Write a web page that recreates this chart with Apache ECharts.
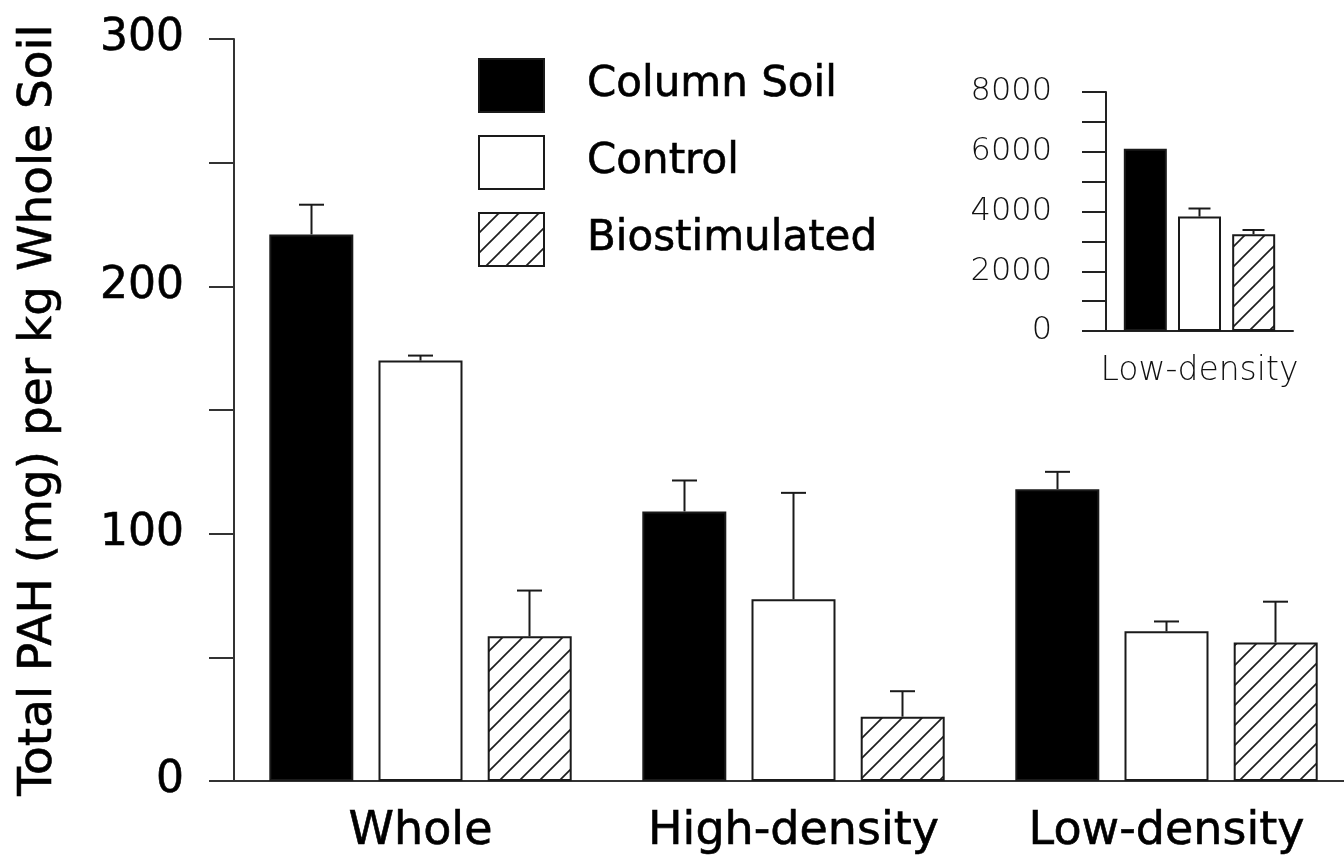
<!DOCTYPE html>
<html>
<head>
<meta charset="utf-8">
<script src="https://cdn.jsdelivr.net/npm/echarts@6/dist/echarts.min.js"></script>
<style>
html,body{margin:0;padding:0;background:#fff;}
#chart{width:1344px;height:858px;}
</style>
</head>
<body>
<div id="chart"></div>
<script>
// ---- Data ----
const categories = ['Whole', 'High-density', 'Low-density'];
const seriesNames = ['Column Soil', 'Control', 'Biostimulated'];
const columnSoil = [221, 109, 118];
const columnSoilSE = [12, 12.5, 7];
const control = [170, 73.5, 60.5];
const controlSE = [2, 43, 4];
const biostim = [58.5, 26, 56];
const biostimSE = [18.5, 10.3, 16.5];
const yTicks = [0, 100, 200, 300];

const insetCategories = ['Low-density'];
const insetColumnSoil = [6100];
const insetColumnSoilSE = [null];
const insetControl = [3830];
const insetControlSE = [270];
const insetBiostim = [3240];
const insetBiostimSE = [140];
const insetTicks = [0, 2000, 4000, 6000, 8000];

// ---- Hatch pattern ----
function makeHatch() {
  const c = document.createElement('canvas');
  c.width = 20; c.height = 20;
  const g = c.getContext('2d');
  g.fillStyle = '#fff'; g.fillRect(0, 0, 20, 20);
  g.strokeStyle = '#1e1e1e'; g.lineWidth = 1.7;
  for (let k = -1; k <= 1; k++) {
    g.beginPath();
    g.moveTo(-5, 20 + 20 * k + 5);
    g.lineTo(25, 20 + 20 * k - 25);
    g.stroke();
  }
  return c;
}
const hatch = { image: makeHatch(), repeat: 'repeat' };

const FONT = 'DejaVu Sans';
const fills = ['#000', '#fff', hatch];
const bold = { textBorderColor: '#000', textBorderWidth: 0.6 };

function errRender(idx, barW, gap, capW) {
  return function (params, api) {
    const e = api.value(2);
    if (e === null || e === undefined || isNaN(e)) return null;
    const x = api.value(0), v = api.value(1);
    const base = api.coord([x, v]);
    const top = api.coord([x, v + e]);
    const cx = base[0] + (idx - 1) * (barW + gap);
    const st = { stroke: '#1a1a1a', lineWidth: 2 };
    return {
      type: 'group',
      children: [
        { type: 'line', shape: { x1: cx, y1: base[1], x2: cx, y2: top[1] }, style: st },
        { type: 'line', shape: { x1: cx - capW / 2, y1: top[1], x2: cx + capW / 2, y2: top[1] }, style: st }
      ]
    };
  };
}

const mainVals = [columnSoil, control, biostim];
const mainSE = [columnSoilSE, controlSE, biostimSE];
const insVals = [insetColumnSoil, insetControl, insetBiostim];
const insSE = [insetColumnSoilSE, insetControlSE, insetBiostimSE];

const series = [];
seriesNames.forEach((name, i) => {
  series.push({
    name: name, type: 'bar', xAxisIndex: 0, yAxisIndex: 0,
    data: mainVals[i], barWidth: 84, barGap: '30%',
    itemStyle: { color: fills[i], borderColor: '#1a1a1a', borderWidth: 2 },
    emphasis: { disabled: true }, animation: false
  });
});
seriesNames.forEach((name, i) => {
  series.push({
    type: 'custom', xAxisIndex: 0, yAxisIndex: 0,
    renderItem: errRender(i, 84, 25, 25),
    data: categories.map((c, j) => [j, mainVals[i][j], mainSE[i][j]]),
    encode: { x: 0, y: 1 }, z: 3, silent: true, animation: false
  });
});
seriesNames.forEach((name, i) => {
  series.push({
    name: name, type: 'bar', xAxisIndex: 1, yAxisIndex: 1,
    data: insVals[i], barWidth: 43, barGap: '26%',
    itemStyle: { color: fills[i], borderColor: '#1a1a1a', borderWidth: 2 },
    emphasis: { disabled: true }, animation: false
  });
});
seriesNames.forEach((name, i) => {
  series.push({
    type: 'custom', xAxisIndex: 1, yAxisIndex: 1,
    renderItem: errRender(i, 43, 11, 22),
    data: insetCategories.map((c, j) => [j, insVals[i][j], insSE[i][j]]),
    encode: { x: 0, y: 1 }, z: 3, silent: true, animation: false
  });
});

const chart = echarts.init(document.getElementById('chart'));
chart.setOption({
  backgroundColor: '#fff',
  animation: false,
  legend: {
    data: seriesNames, orient: 'vertical', left: 473, top: 53,
    itemWidth: 65, itemHeight: 53, itemGap: 22, icon: 'rect',
    selectedMode: false,
    textStyle: Object.assign({ fontFamily: FONT, fontSize: 42, color: '#000', padding: [0, 0, 0, 38] }, bold)
  },
  grid: [
    { left: 234, top: 39, bottom: 77, width: 1119, containLabel: false, outerBoundsMode: 'none' },
    { left: 1106, top: 92, width: 187, bottom: 527, containLabel: false, outerBoundsMode: 'none' }
  ],
  xAxis: [
    {
      type: 'category', gridIndex: 0, data: categories,
      axisLine: { lineStyle: { color: '#333', width: 2 } },
      axisTick: { show: false },
      axisLabel: Object.assign({ fontFamily: FONT, fontSize: 46, color: '#000', margin: 28, interval: 0 }, bold)
    },
    {
      type: 'category', gridIndex: 1, data: insetCategories,
      axisLine: { lineStyle: { color: '#222', width: 2 } },
      axisTick: { show: false },
      axisLabel: { fontFamily: FONT, fontSize: 33, fontWeight: 200, color: '#111', margin: 24 }
    }
  ],
  yAxis: [
    {
      type: 'value', gridIndex: 0, min: 0, max: 300, interval: 50,
      name: 'Total PAH (mg) per kg Whole Soil', nameLocation: 'middle', nameRotate: 90, nameGap: 172,
      nameTextStyle: Object.assign({ fontFamily: FONT, fontSize: 47, color: '#000' }, bold),
      axisLine: { show: true, lineStyle: { color: '#333', width: 2 } },
      axisTick: { show: true, length: 25, lineStyle: { color: '#333', width: 2 } },
      splitLine: { show: false },
      axisLabel: Object.assign({
        fontFamily: FONT, fontSize: 44, color: '#000', margin: 50,
        formatter: v => (yTicks.indexOf(v) >= 0 ? String(v) : '')
      }, bold)
    },
    {
      type: 'value', gridIndex: 1, min: 0, max: 8000, interval: 1000,
      axisLine: { show: true, lineStyle: { color: '#222', width: 2 } },
      axisTick: { show: true, length: 24, lineStyle: { color: '#222', width: 2 } },
      splitLine: { show: false },
      axisLabel: {
        fontFamily: FONT, fontSize: 32, fontWeight: 200, color: '#111', margin: 54,
        formatter: v => (insetTicks.indexOf(v) >= 0 ? String(v) : '')
      }
    }
  ],
  series: series
});
</script>
</body>
</html>
